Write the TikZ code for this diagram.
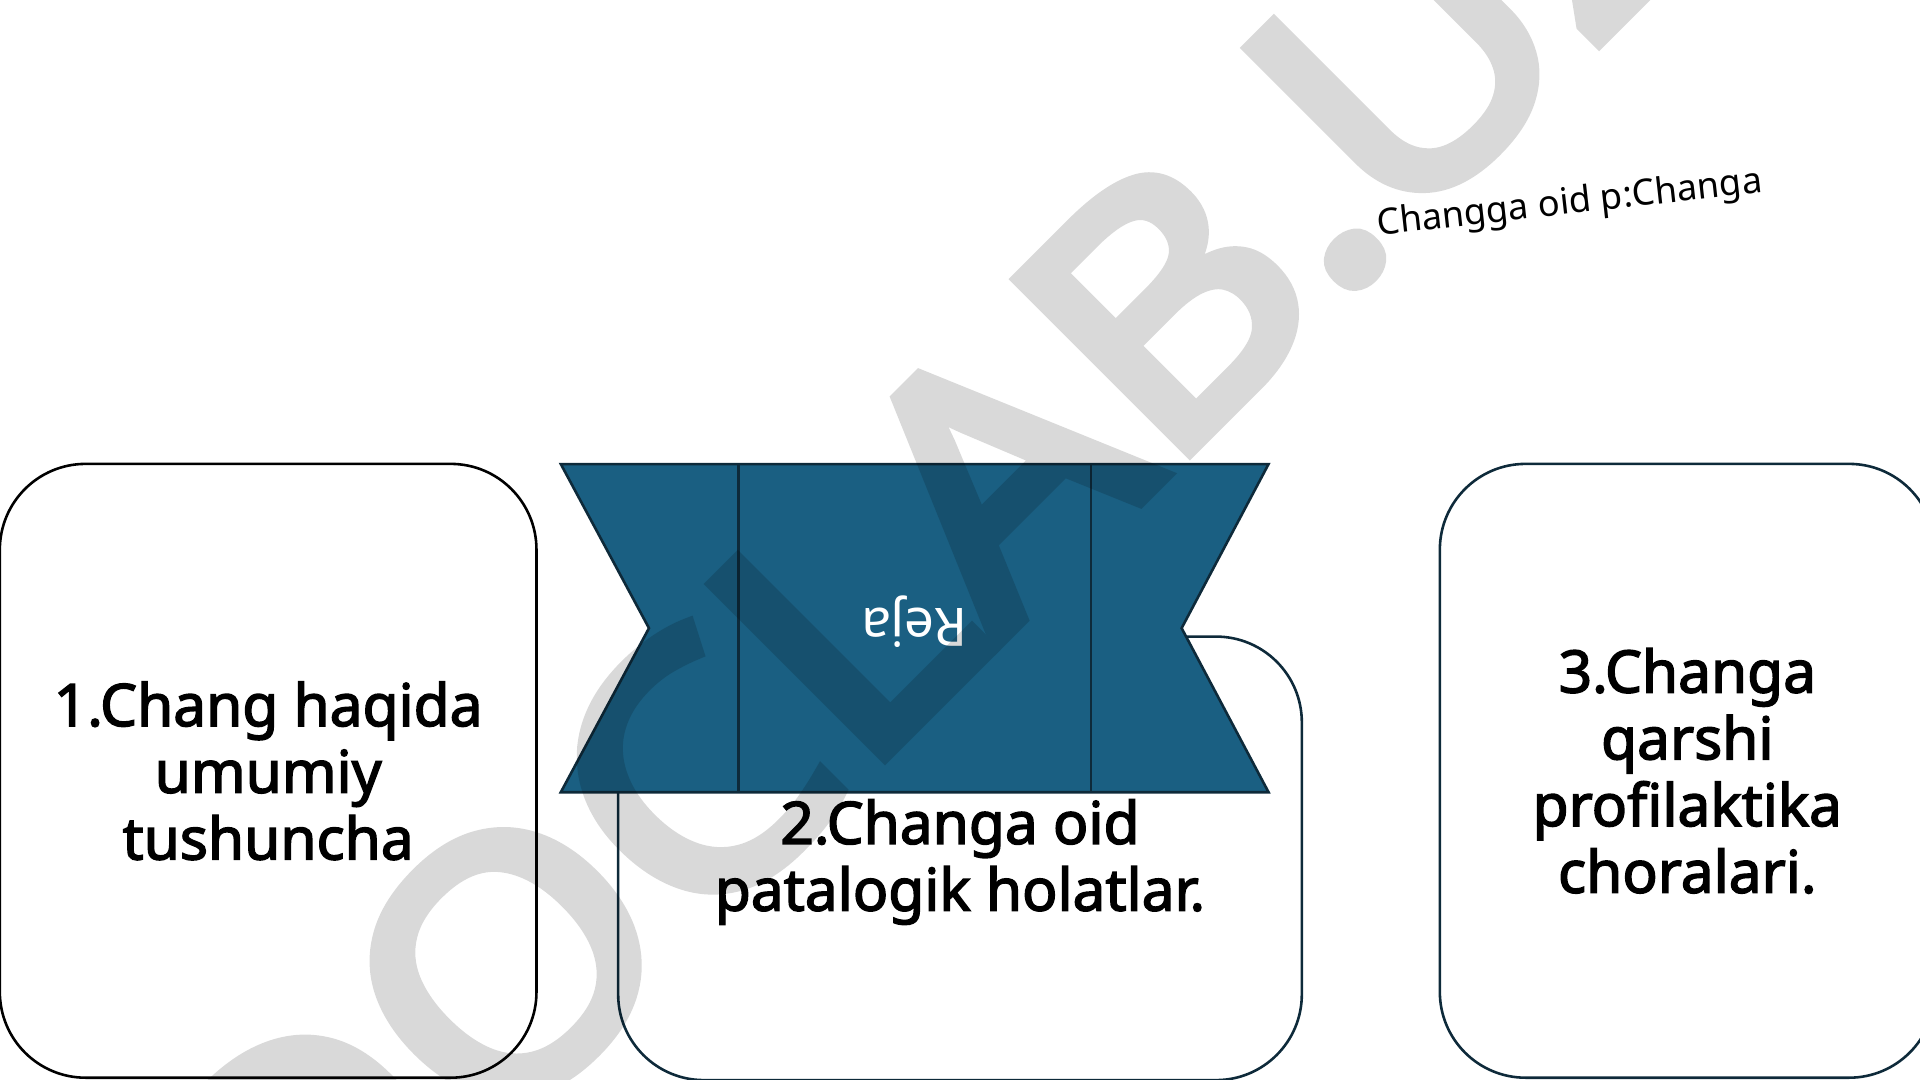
\documentclass[tikz,border=0pt]{standalone}
\usepackage{fontspec}
\usepackage{graphicx}
\setmainfont{Noto Sans}[BoldFont={Noto Sans},BoldFeatures={FakeBold=2.5}]
\newfontfamily\markfont{Noto Sans}[FakeBold=4]
\usetikzlibrary{positioning}

\definecolor{rejablue}{HTML}{1A5F82}
\definecolor{rejaline}{HTML}{0E2A3A}

\begin{document}
\begin{tikzpicture}[x=0.01cm,y=0.01cm,
		topic box/.style={rectangle,draw,line width=0.6pt,rounded corners=0.7cm,align=center,inner sep=0pt,
			font=\fontsize{13.6}{15.5}\selectfont\bfseries},
		ribbon/.style={fill=rejablue,draw=rejaline,line width=0.6pt,line join=miter}
		]
		
		\def \w {1568};
		\def \h {882};
		
		\useasboundingbox (0,0) rectangle (\w,\h);
		\clip (0,0) rectangle (\w,\h);
		
		% the three topics
		\node[topic box,draw=black,minimum width=4.38cm,minimum height=5.01cm] (plan1) at (219,252.5) {1.Chang haqida\\umumiy\\tushuncha};
		\node[topic box,draw=rejaline,minimum width=5.58cm,minimum height=3.62cm] (plan2) at (784,181) {};
		\node[font=\fontsize{13.6}{15.5}\selectfont\bfseries,align=center] (plan2text) at (784,178) {2.Changa oid\\patalogik holatlar.};
		\node[topic box,draw=rejaline,minimum width=4.04cm,minimum height=5.01cm] (plan3) at (1378,252.5) {3.Changa\\qarshi\\profilaktika\\choralari.};
		
		% banner
		\draw[ribbon] (458,503) -- (1036,503) -- (965,369) -- (1036,235) -- (458,235) -- (530,369) -- cycle;
		\draw[rejaline,line width=0.6pt] (603,503) -- (603,235) (891,503) -- (891,235);
		\node[rotate=180,text=white,font=\fontsize{12.3}{14}\selectfont] (reja) at (747,374) {Reja};
		
		\node[rotate=6.4,font=\fontsize{8.4}{10}\selectfont] (title) at (1282,715) {Changga oid p:Changa};
		
		% watermark
		\begin{scope}[transparency group,opacity=0.15]
		\node[rotate=45,anchor=base,font=\fontsize{79}{82}\markfont] (mark) at (832,374) {\scalebox{1.09}[1]{DOCLAB.UZ}};
		\end{scope}
		\end{tikzpicture}
\end{document}
